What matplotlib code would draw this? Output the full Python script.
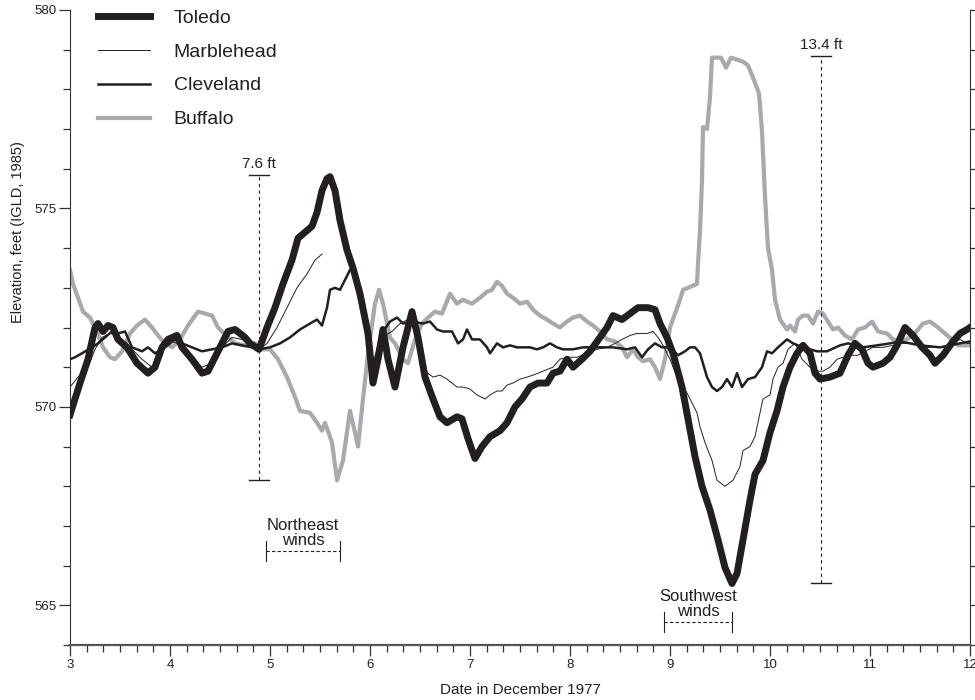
import numpy as np
import matplotlib
matplotlib.use("Agg")
import matplotlib.pyplot as plt
from matplotlib.ticker import MultipleLocator

plt.rcParams['font.family'] = ['Liberation Sans', 'DejaVu Sans']

# --- data (day of December 1977, feet IGLD 1985) ---
toledo_x = [3.00, 3.10, 3.18, 3.25, 3.28, 3.33, 3.38, 3.43, 3.48, 3.57, 3.67, 3.78, 3.85, 3.92, 3.98,
            4.07, 4.12, 4.22, 4.32, 4.38, 4.48, 4.58, 4.65, 4.75, 4.80, 4.89, 4.97, 5.05, 5.13, 5.22,
            5.28, 5.35, 5.42, 5.47, 5.52, 5.57, 5.60, 5.65, 5.70, 5.77, 5.83, 5.90, 5.98, 6.03, 6.08,
            6.13, 6.18, 6.25, 6.33, 6.42, 6.48, 6.55, 6.63, 6.70, 6.77, 6.87, 6.92, 6.98, 7.05, 7.12,
            7.20, 7.30, 7.37, 7.45, 7.52, 7.60, 7.68, 7.77, 7.83, 7.90, 7.97, 8.03, 8.12, 8.20, 8.30,
            8.37, 8.43, 8.52, 8.60, 8.68, 8.78, 8.85, 8.90, 8.97, 9.03, 9.12, 9.18, 9.25, 9.32, 9.40,
            9.48, 9.55, 9.62, 9.67, 9.73, 9.80, 9.85, 9.93, 10.00, 10.07, 10.13, 10.20, 10.27, 10.33,
            10.40, 10.45, 10.50, 10.60, 10.70, 10.78, 10.85, 10.92, 10.98, 11.03, 11.13, 11.20, 11.27,
            11.35, 11.43, 11.52, 11.60, 11.65, 11.73, 11.83, 11.90, 11.97, 12.00]
toledo_y = [569.8, 570.6, 571.2, 572.0, 572.1, 571.9, 572.05, 572.0, 571.7, 571.5, 571.1, 570.85, 571.0, 571.5, 571.7,
            571.8, 571.5, 571.2, 570.85, 570.9, 571.4, 571.9, 571.95, 571.75, 571.6, 571.45, 572.0, 572.5, 573.1, 573.7,
            574.25, 574.4, 574.55, 574.9, 575.45, 575.75, 575.8, 575.45, 574.7, 573.95, 573.5, 572.85, 571.85, 570.6, 571.2,
            571.95, 571.2, 570.5, 571.5, 572.4, 571.75, 570.75, 570.2, 569.75, 569.6, 569.75, 569.7, 569.2, 568.7, 569.0,
            569.25, 569.4, 569.6, 570.0, 570.2, 570.5, 570.6, 570.6, 570.85, 570.9, 571.2, 571.0, 571.2, 571.4, 571.75,
            572.0, 572.3, 572.2, 572.35, 572.5, 572.5, 572.45, 572.1, 571.75, 571.35, 570.5, 569.7, 568.75, 568.0, 567.4,
            566.65, 565.95, 565.55, 565.8, 566.65, 567.65, 568.3, 568.65, 569.35, 569.9, 570.5, 571.0, 571.35, 571.55,
            571.35, 570.85, 570.7, 570.75, 570.85, 571.3, 571.6, 571.45, 571.1, 571.0, 571.1, 571.25, 571.55,
            572.0, 571.8, 571.5, 571.3, 571.1, 571.3, 571.65, 571.85, 571.95, 572.0]

marble_x = [3.00, 3.08, 3.18, 3.25, 3.32, 3.40, 3.48, 3.55, 3.62, 3.72, 3.82, 3.92, 4.02, 4.12, 4.22,
            4.32, 4.42, 4.52, 4.62, 4.72, 4.82, 4.89, 4.97, 5.07, 5.17, 5.27, 5.37, 5.45, 5.52, 5.53,
            6.08, 6.15, 6.22, 6.30, 6.38, 6.45, 6.50, 6.55, 6.63, 6.70, 6.77, 6.87, 6.93, 7.00, 7.07,
            7.15, 7.20, 7.27, 7.32, 7.37, 7.43, 7.50, 7.57, 7.63, 7.73, 7.83, 7.90, 7.97, 8.07, 8.17,
            8.27, 8.37, 8.45, 8.52, 8.60, 8.67, 8.77, 8.83, 8.88, 8.93, 9.00, 9.07, 9.17, 9.22, 9.27,
            9.30, 9.35, 9.42, 9.47, 9.55, 9.63, 9.70, 9.73, 9.80, 9.85, 9.90, 9.93, 10.00, 10.03, 10.08,
            10.13, 10.18, 10.25, 10.27, 10.32, 10.40, 10.47, 10.53, 10.60, 10.67, 10.73, 10.82, 10.88,
            10.95, 11.03, 11.13, 11.23, 11.33, 11.43, 11.53, 11.63, 11.73, 11.83, 11.90, 11.97, 12.00]
marble_y = [570.5, 570.75, 571.0, 571.45, 571.75, 571.85, 571.8, 571.6, 571.45, 571.2, 571.0, 571.45, 571.65, 571.55, 571.25,
            571.0, 571.1, 571.5, 571.75, 571.7, 571.5, 571.45, 571.6, 572.0, 572.5, 573.0, 573.35, 573.7, 573.85, np.nan,
            571.3, 571.8, 571.9, 572.1, 572.2, 572.0, 571.6, 570.9, 570.75, 570.8, 570.7, 570.5, 570.5, 570.45, 570.3,
            570.2, 570.3, 570.4, 570.4, 570.55, 570.6, 570.7, 570.75, 570.8, 570.9, 571.0, 571.2, 571.25, 571.25, 571.35,
            571.45, 571.5, 571.6, 571.7, 571.8, 571.85, 571.85, 571.9, 571.75, 571.55, 571.2, 570.75, 570.35, 570.1, 569.85,
            569.5, 569.1, 568.65, 568.15, 568.0, 568.15, 568.5, 568.9, 569.0, 569.25, 569.85, 570.2, 570.3, 570.7, 571.0,
            571.1, 571.45, 571.6, 571.5, 571.2, 571.0, 570.9, 570.9, 571.0, 571.2, 571.25, 571.3, 571.3,
            571.4, 571.5, 571.5, 571.55, 571.6, 571.6, 571.5, 571.5, 571.5, 571.6, 571.7, 571.6, 571.6]

cleve_x = [3.00, 3.05, 3.12, 3.22, 3.28, 3.35, 3.42, 3.48, 3.55, 3.62, 3.72, 3.78, 3.85, 3.95, 4.05,
           4.12, 4.22, 4.32, 4.42, 4.52, 4.62, 4.72, 4.82, 4.89, 5.00, 5.10, 5.20, 5.30, 5.40, 5.47,
           5.52, 5.57, 5.60, 5.65, 5.70, 5.75, 5.80, 5.83, 5.90, 5.98, 6.03, 6.08, 6.13, 6.20, 6.27,
           6.33, 6.42, 6.53, 6.60, 6.67, 6.73, 6.82, 6.88, 6.93, 6.97, 7.02, 7.10, 7.17, 7.20, 7.27,
           7.33, 7.40, 7.47, 7.53, 7.60, 7.67, 7.73, 7.80, 7.87, 7.93, 8.03, 8.13, 8.30, 8.43, 8.57,
           8.65, 8.72, 8.78, 8.85, 8.92, 9.00, 9.08, 9.15, 9.20, 9.25, 9.30, 9.37, 9.42, 9.47, 9.52,
           9.57, 9.62, 9.67, 9.72, 9.78, 9.85, 9.92, 9.97, 10.02, 10.08, 10.17, 10.23, 10.33, 10.40,
           10.47, 10.57, 10.70, 10.78, 10.93, 11.07, 11.20, 11.30, 11.50, 11.70, 11.90, 12.00]
cleve_y = [571.2, 571.25, 571.35, 571.5, 571.6, 571.75, 571.9, 571.85, 571.9, 571.5, 571.4, 571.5, 571.35, 571.5, 571.7,
           571.6, 571.5, 571.4, 571.45, 571.5, 571.6, 571.55, 571.5, 571.45, 571.5, 571.6, 571.75, 571.95, 572.1, 572.2,
           572.05, 572.5, 572.95, 573.0, 572.95, 573.2, 573.45, 573.5, 572.85, 571.9, 571.0, 571.5, 571.9, 572.15, 572.25,
           572.1, 572.15, 572.1, 572.15, 571.95, 571.9, 571.9, 571.6, 571.7, 571.95, 571.7, 571.7, 571.5, 571.35, 571.6,
           571.5, 571.55, 571.5, 571.5, 571.5, 571.45, 571.5, 571.6, 571.5, 571.45, 571.45, 571.5, 571.5, 571.5, 571.45,
           571.5, 571.25, 571.45, 571.6, 571.5, 571.5, 571.3, 571.4, 571.5, 571.5, 571.35, 570.75, 570.5, 570.4, 570.5,
           570.7, 570.5, 570.85, 570.5, 570.7, 570.75, 571.0, 571.4, 571.35, 571.5, 571.7, 571.6, 571.5, 571.45,
           571.4, 571.4, 571.55, 571.6, 571.5, 571.55, 571.6, 571.65, 571.55, 571.5, 571.6, 571.65]

buff_x = [3.00, 3.03, 3.08, 3.13, 3.20, 3.27, 3.33, 3.40, 3.45, 3.52, 3.60, 3.67, 3.75, 3.82, 3.88,
          3.95, 4.02, 4.10, 4.18, 4.28, 4.35, 4.42, 4.48, 4.58, 4.65, 4.75, 4.85, 4.89, 5.00, 5.08,
          5.17, 5.25, 5.30, 5.40, 5.47, 5.52, 5.55, 5.62, 5.67, 5.73, 5.80, 5.85, 5.88, 5.93, 5.98,
          6.05, 6.09, 6.13, 6.20, 6.25, 6.33, 6.38, 6.45, 6.52, 6.58, 6.65, 6.72, 6.80, 6.87, 6.93,
          7.02, 7.10, 7.17, 7.22, 7.27, 7.32, 7.37, 7.43, 7.50, 7.57, 7.63, 7.70, 7.77, 7.83, 7.90,
          7.97, 8.03, 8.10, 8.17, 8.23, 8.30, 8.37, 8.45, 8.52, 8.57, 8.63, 8.68, 8.73, 8.80, 8.85,
          8.90, 8.95, 9.00, 9.05, 9.10, 9.13, 9.18, 9.27, 9.28, 9.30, 9.32, 9.33, 9.37, 9.40, 9.42,
          9.47, 9.51, 9.56, 9.61, 9.67, 9.73, 9.78, 9.83, 9.89, 9.92, 9.95, 9.98, 10.02, 10.05, 10.10,
          10.17, 10.20, 10.25, 10.28, 10.33, 10.38, 10.43, 10.48, 10.53, 10.58, 10.63, 10.68, 10.75,
          10.82, 10.88, 10.95, 11.02, 11.08, 11.17, 11.23, 11.33, 11.43, 11.53, 11.60, 11.68, 11.75,
          11.82, 11.88, 12.00]
buff_y = [573.45, 573.1, 572.75, 572.4, 572.25, 571.9, 571.5, 571.25, 571.2, 571.4, 571.85, 572.05, 572.2, 572.0, 571.8,
          571.6, 571.5, 571.7, 572.05, 572.4, 572.35, 572.3, 572.0, 571.75, 571.6, 571.55, 571.6, 571.45, 571.45, 571.2,
          570.75, 570.25, 569.9, 569.85, 569.6, 569.4, 569.6, 569.1, 568.15, 568.65, 569.9, 569.35, 569.0, 570.2, 571.35,
          572.6, 572.95, 572.6, 571.75, 571.6, 571.2, 571.1, 571.7, 572.1, 572.25, 572.4, 572.35, 572.85, 572.6, 572.7,
          572.6, 572.75, 572.9, 572.95, 573.15, 573.05, 572.85, 572.75, 572.6, 572.65, 572.45, 572.3, 572.2, 572.1, 572.0,
          572.15, 572.25, 572.3, 572.15, 572.05, 571.9, 571.7, 571.65, 571.5, 571.25, 571.45, 571.25, 571.15, 571.2, 571.0,
          570.7, 571.2, 572.0, 572.35, 572.7, 572.95, 573.0, 573.1, 573.6, 574.45, 575.7, 577.05, 577.0, 577.8, 578.8,
          578.8, 578.8, 578.55, 578.8, 578.75, 578.7, 578.6, 578.3, 577.9, 576.95, 575.3, 574.0, 573.45, 572.7, 572.2,
          571.95, 572.05, 571.9, 572.2, 572.3, 572.3, 572.1, 572.4, 572.35, 572.15, 571.95, 572.0, 571.8,
          571.7, 571.95, 572.0, 572.15, 571.9, 571.85, 571.7, 571.65, 571.8, 572.1, 572.15, 572.0, 571.85,
          571.7, 571.55, 571.55]

ink = '#231f20'
grey = '#a7a9ac'

fig = plt.figure(figsize=(9.75, 7.0), dpi=100)
ax = fig.add_axes([70 / 975, 55 / 700, 900 / 975, 635 / 700])

ax.plot(buff_x, buff_y, color=grey, lw=3.0, solid_joinstyle='round', label='Buffalo', zorder=2)
ax.plot(cleve_x, cleve_y, color=ink, lw=1.8, solid_joinstyle='round', label='Cleveland', zorder=3)
ax.plot(toledo_x, toledo_y, color=ink, lw=5.0, solid_joinstyle='round', label='Toledo', zorder=4)
ax.plot(marble_x, marble_y, color=ink, lw=0.7, label='Marblehead', zorder=5)

ax.set_xlim(3, 12)
ax.set_ylim(564, 580)

# range bars
def range_bar(x, y0, y1, text):
    ax.plot([x, x], [y0, y1], color=ink, lw=0.8, ls=(0, (3, 3)))
    ax.plot([x - 0.1, x + 0.1], [y1, y1], color=ink, lw=1.0)
    ax.plot([x - 0.1, x + 0.1], [y0, y0], color=ink, lw=1.0)
    ax.text(x, y1 + 0.1, text, ha='center', va='bottom', fontsize=11, color=ink)

range_bar(4.89, 568.15, 575.85, '7.6 ft')
range_bar(10.51, 565.55, 578.85, '13.4 ft')

# wind periods
def wind_bracket(x0, x1, y, text):
    ax.plot([x0, x1], [y, y], color=ink, lw=0.8, ls=(0, (3, 2)))
    ax.plot([x0, x0], [y - 0.25, y + 0.25], color=ink, lw=0.8)
    ax.plot([x1, x1], [y - 0.25, y + 0.25], color=ink, lw=0.8)
    ax.text((x0 + x1) / 2, y + 0.08, text, ha='center', va='bottom', fontsize=12,
            color=ink, linespacing=1.0)

wind_bracket(4.96, 5.70, 566.37, 'Northeast\nwinds')
wind_bracket(8.94, 9.62, 564.58, 'Southwest\nwinds')

# axes styling
ax.spines['top'].set_visible(False)
ax.spines['left'].set_color('#333333')
ax.spines['right'].set_color('#333333')
ax.spines['bottom'].set_color('#555555')
ax.spines['bottom'].set_linewidth(1.6)
ax.xaxis.set_major_locator(MultipleLocator(1))
ax.xaxis.set_minor_locator(MultipleLocator(1 / 6))
ax.yaxis.set_minor_locator(MultipleLocator(1))
ax.set_yticks([565, 570, 575, 580])
ax.tick_params(axis='both', which='major', length=8, width=0.9, color='#333333',
               labelsize=9.5, labelcolor=ink, pad=2)
ax.tick_params(axis='both', which='minor', length=5, width=0.9, color='#333333')
ax.tick_params(axis='y', which='both', right=True)

ax.set_xlabel('Date in December 1977', fontsize=11, color=ink, labelpad=9)
fig.text(18 / 975, 1 - 232 / 700, 'Elevation, feet (IGLD, 1985)', rotation=90,
         ha='center', va='center', fontsize=10.5, color=ink)

handles, labels = ax.get_legend_handles_labels()
order = ['Toledo', 'Marblehead', 'Cleveland', 'Buffalo']
hmap = dict(zip(labels, handles))
leg = ax.legend([hmap[k] for k in order], order, loc='upper left',
                bbox_to_anchor=(98 / 975, 1 - 9 / 700), bbox_transform=fig.transFigure,
                frameon=False, fontsize=14, handlelength=2.67, handletextpad=1.23,
                labelspacing=0.84, borderpad=0, borderaxespad=0)
for t in leg.get_texts():
    t.set_color(ink)

fig.savefig('out.png', dpi=100)
